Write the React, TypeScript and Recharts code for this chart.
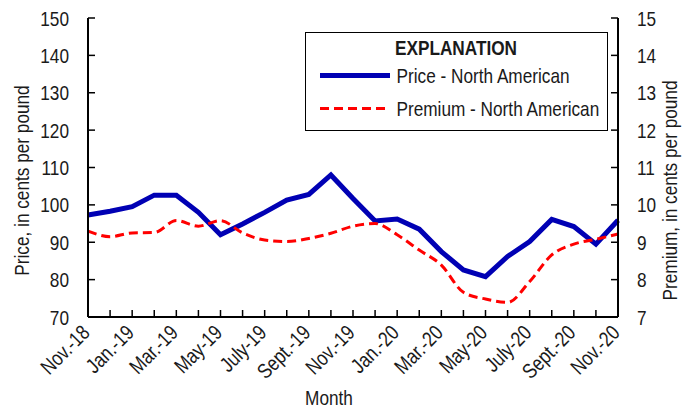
import React from 'react';
import { LineChart, Line, XAxis, YAxis, Legend, Label } from 'recharts';

const months = [
  'Nov.-18', 'Dec.-18', 'Jan.-19', 'Feb.-19', 'Mar.-19', 'Apr.-19', 'May-19', 'June-19', 'July-19',
  'Aug.-19', 'Sept.-19', 'Oct.-19', 'Nov.-19', 'Dec.-19', 'Jan.-20', 'Feb.-20', 'Mar.-20', 'Apr.-20',
  'May-20', 'June-20', 'July-20', 'Aug.-20', 'Sept.-20', 'Oct.-20', 'Nov.-20',
];
const tickLabels = [
  'Nov.-18', 'Jan.-19', 'Mar.-19', 'May-19', 'July-19', 'Sept.-19', 'Nov.-19',
  'Jan.-20', 'Mar.-20', 'May-20', 'July-20', 'Sept.-20', 'Nov.-20',
];
const price = [
  97.3, 98.3, 99.5, 102.6, 102.6, 98.0, 92.0, 94.9, 98.0, 101.3, 102.8, 108.0, 101.7,
  95.7, 96.2, 93.5, 87.5, 82.6, 80.8, 86.2, 90.2, 96.1, 94.2, 89.5, 95.9,
];
const premium = [
  9.3, 9.15, 9.25, 9.26, 9.58, 9.43, 9.58, 9.25, 9.06, 9.02, 9.1, 9.24, 9.43,
  9.5, 9.2, 8.79, 8.39, 7.66, 7.48, 7.39, 7.95, 8.66, 8.95, 9.08, 9.22,
];
const priceTicks = [70, 80, 90, 100, 110, 120, 130, 140, 150];
const premiumTicks = [7, 8, 9, 10, 11, 12, 13, 14, 15];

const data = months.map((m, i) => ({ month: m, price: price[i], premium: premium[i] }));

const FONT = "'Liberation Sans', Arial, sans-serif";
const TXT = '#1a1a1a';
const BLUE = '#0000b4';
const RED = '#ff0000';
const SX = 0.82;

const NText = (p: { x: number; y: number; anchor?: string; rot?: number; bold?: boolean; size?: number; children: any }) => (
  <text
    x={0}
    y={0}
    transform={`translate(${p.x} ${p.y}) rotate(${p.rot || 0}) scale(${SX} 1)`}
    textAnchor={p.anchor || 'start'}
    fontFamily={FONT}
    fontSize={p.size || 21}
    fontWeight={p.bold ? 'bold' : 'normal'}
    fill={TXT}
  >
    {p.children}
  </text>
);

const BottomTick = (props: any) => {
  const { x, y, payload } = props;
  const show = tickLabels.includes(payload.value);
  return (
    <g>
      <line x1={x} x2={x} y1={y} y2={y - 7} stroke="#000" strokeWidth={1.5} />
      {show && (
        <NText x={x + 3} y={y + 17} anchor="end" rot={-45}>
          {payload.value}
        </NText>
      )}
    </g>
  );
};

const TopTick = (props: any) => {
  const { x, y } = props;
  return <line x1={x} x2={x} y1={y} y2={y + 7} stroke="#000" strokeWidth={1.5} />;
};

const LeftTick = (props: any) => {
  const { x, y, payload } = props;
  return (
    <g>
      <line x1={x} x2={x + 7} y1={y} y2={y} stroke="#000" strokeWidth={1.5} />
      <NText x={x - 19} y={y + 7.5} anchor="end">
        {payload.value}
      </NText>
    </g>
  );
};

const RightTick = (props: any) => {
  const { x, y, payload } = props;
  return (
    <g>
      <line x1={x} x2={x - 7} y1={y} y2={y} stroke="#000" strokeWidth={1.5} />
      <NText x={x + 19} y={y + 7.5} anchor="start">
        {payload.value}
      </NText>
    </g>
  );
};

const LegendBox = () => (
  <div style={{ width: 303, height: 99, border: '1px solid #000', boxSizing: 'border-box', background: '#fff' }}>
    <svg width={301} height={97} style={{ display: 'block' }}>
      <NText x={150} y={21.5} anchor="middle" bold>
        EXPLANATION
      </NText>
      <line x1={14} x2={84} y1={42.5} y2={42.5} stroke={BLUE} strokeWidth={5} />
      <NText x={90.5} y={49.5}>Price - North American</NText>
      <line x1={14} x2={84} y1={75.5} y2={75.5} stroke={RED} strokeWidth={3} strokeDasharray="9 5" />
      <NText x={90.5} y={82.5}>Premium - North American</NText>
    </svg>
  </div>
);

export default function App() {
  return (
    <LineChart width={686} height={401} data={data} margin={{ top: 10, right: 20, bottom: 22, left: 20 }}>
      <XAxis dataKey="month" xAxisId="bottom" interval={0} tickLine={false} tickSize={0} tickMargin={0}
        height={70} axisLine={{ stroke: '#000', strokeWidth: 2 }} tick={<BottomTick />}>
        <Label content={(p: any) => {
          const vb = p.viewBox;
          return (
            <NText x={vb.x + vb.width / 2 - 24} y={vb.y + 88} anchor="middle">
              Month
            </NText>
          );
        }} />
      </XAxis>
      <XAxis dataKey="month" xAxisId="top" orientation="top" interval={0} tickLine={false} tickSize={0}
        tickMargin={0} height={0} axisLine={{ stroke: '#000', strokeWidth: 2 }} tick={<TopTick />} />
      <YAxis yAxisId="left" domain={[70, 150]} ticks={priceTicks} interval={0} tickLine={false} tickSize={0}
        tickMargin={0} width={60} axisLine={{ stroke: '#000', strokeWidth: 2 }} tick={<LeftTick />}
        allowDataOverflow>
        <Label content={(p: any) => {
          const vb = p.viewBox;
          const cx = vb.x - 6 + 7;
          const cy = vb.y + vb.height / 2 + 13;
          return (
            <NText x={cx} y={cy} anchor="middle" rot={-90}>
              Price, in cents per pound
            </NText>
          );
        }} />
      </YAxis>
      <YAxis yAxisId="right" orientation="right" domain={[7, 15]} ticks={premiumTicks} interval={0}
        tickLine={false} tickSize={0} tickMargin={0} width={56} axisLine={{ stroke: '#000', strokeWidth: 2 }}
        tick={<RightTick />} allowDataOverflow>
        <Label content={(p: any) => {
          const vb = p.viewBox;
          const cx = vb.x + 52 + 7;
          const cy = vb.y + vb.height / 2 + 23;
          return (
            <NText x={cx} y={cy} anchor="middle" rot={-90}>
              Premium, in cents per pound
            </NText>
          );
        }} />
      </YAxis>
      <Legend verticalAlign="middle" align="center" layout="horizontal" content={() => <LegendBox />}
        wrapperStyle={{ position: 'absolute', left: 297, top: 24, width: 303, height: 99 }} />
      <Line xAxisId="bottom" yAxisId="left" type="linear" dataKey="price" name="Price - North American"
        stroke={BLUE} strokeWidth={5} dot={false} activeDot={false} isAnimationActive={false} />
      <Line xAxisId="top" yAxisId="right" type="monotone" dataKey="premium" name="Premium - North American"
        stroke={RED} strokeWidth={3} strokeDasharray="9 5" dot={false} activeDot={false} isAnimationActive={false} />
    </LineChart>
  );
}
